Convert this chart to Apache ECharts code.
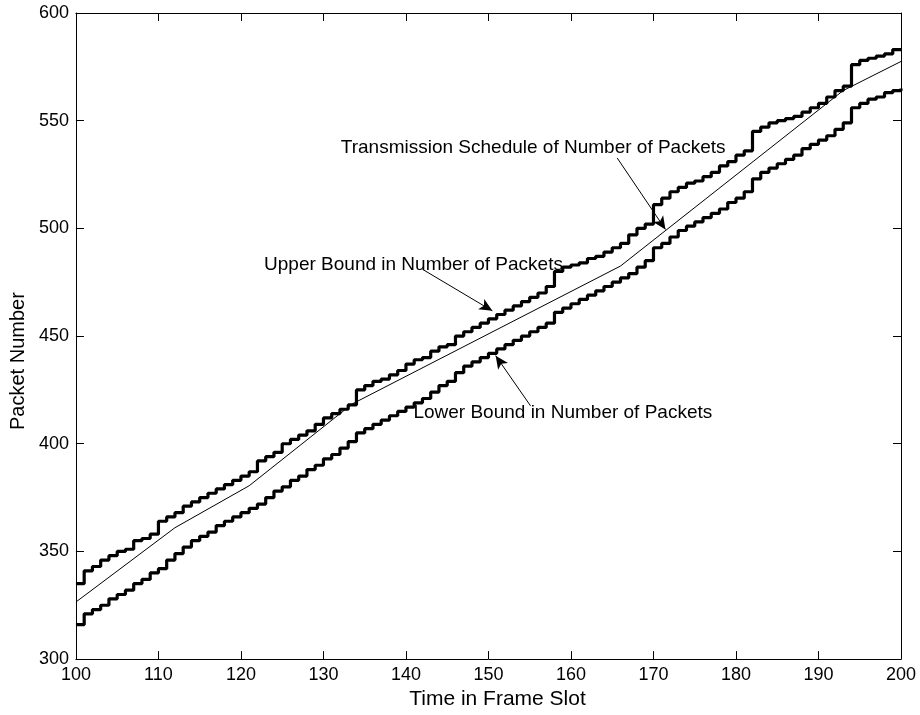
<!DOCTYPE html>
<html>
<head>
<meta charset="utf-8">
<title>Packet Schedule</title>
<script src="https://cdn.jsdelivr.net/npm/echarts@6/dist/echarts.min.js"></script>
<style>
  html, body { margin: 0; padding: 0; background: #fff; }
  #chart { width: 920px; height: 715px; }
</style>
</head>
<body>
<div id="chart"></div>
<script>
// Frame slots 100..200, one bound value per slot (held until the next slot)
const firstSlot = 100;

const upperBound = [
  335, 341, 343, 346, 348, 350, 351, 355, 356, 358,
  364, 366, 368, 371, 373, 375, 377, 379, 381, 383,
  385, 387, 392, 394, 396, 400, 402, 404, 406, 409,
  412, 414, 416, 418, 425, 427, 429, 430, 432, 434,
  437, 439, 440, 443, 445, 446, 450, 452, 454, 456,
  458, 460, 462, 464, 466, 468, 470, 473, 480, 482,
  483, 484, 486, 487, 489, 491, 493, 497, 500, 502,
  511, 514, 517, 519, 521, 522, 524, 526, 529, 531,
  534, 536, 545, 547, 549, 550, 551, 552, 554, 556,
  558, 561, 564, 566, 576, 578, 579, 580, 581, 583,
  583
];

const lowerBound = [
  316, 321, 323, 325, 328, 330, 332, 335, 337, 340,
  342, 346, 349, 352, 355, 357, 359, 362, 364, 366,
  368, 370, 372, 375, 378, 380, 383, 385, 388, 390,
  393, 395, 398, 401, 405, 407, 409, 411, 413, 415,
  417, 419, 421, 424, 427, 429, 433, 436, 438, 440,
  442, 444, 446, 448, 450, 452, 454, 456, 461, 463,
  465, 467, 469, 471, 473, 475, 477, 479, 482, 485,
  491, 493, 496, 499, 501, 503, 505, 507, 509, 512,
  514, 517, 523, 526, 528, 530, 532, 534, 537, 539,
  541, 543, 546, 549, 556, 558, 560, 561, 563, 564,
  565
];

// Transmission schedule: piecewise-linear breakpoints [slot, packets]
const scheduleSlots = [100, 112, 121, 133.5, 166, 193, 200];
const scheduleValues = [326.5, 361, 380.5, 418.5, 482.5, 564, 577.5];

const xTicks = { min: 100, max: 200, interval: 10 };
const yTicks = { min: 300, max: 600, interval: 50 };

// Annotations: text anchor [slot, packets], arrow from -> to
const notes = [
  { text: 'Transmission Schedule of Number of Packets', at: [132.1, 537.5],
    from: [165.6, 532.7], to: [171.45, 499.5] },
  { text: 'Upper Bound in Number of Packets', at: [122.8, 483.3],
    from: [142.0, 481.0], to: [150.47, 461.7] },
  { text: 'Lower Bound in Number of Packets', at: [140.9, 414.4],
    from: [155.1, 417.6], to: [150.87, 440.9] }
];

const pairs = vals => vals.map((v, i) => [firstSlot + i, v]);
const FONT = 'Liberation Sans, Arial, sans-serif';

const chart = echarts.init(document.getElementById('chart'), null, { renderer: 'canvas' });

const axisCommon = {
  type: 'value',
  axisLine: { show: true, onZero: false, lineStyle: { color: '#000', width: 1 } },
  axisTick: { show: true, inside: true, length: 8, lineStyle: { color: '#000', width: 1 } },
  splitLine: { show: false },
  axisLabel: { color: '#000', fontFamily: FONT, fontSize: 18, margin: 7 }
};

chart.setOption({
  animation: false,
  backgroundColor: '#fff',
  grid: { left: 75, right: 19, top: 13, bottom: 54, containLabel: false },
  xAxis: [
    Object.assign({}, axisCommon, xTicks, {
      position: 'bottom',
      name: 'Time in Frame Slot',
      nameLocation: 'middle',
      nameGap: 16,
      nameTextStyle: { color: '#000', fontFamily: FONT, fontSize: 21, padding: [0, 0, 0, 18] }
    }),
    Object.assign({}, axisCommon, xTicks, {
      position: 'top',
      axisLabel: { show: false }
    })
  ],
  yAxis: [
    Object.assign({}, axisCommon, yTicks, {
      position: 'left',
      name: 'Packet Number',
      nameLocation: 'middle',
      nameGap: 46,
      nameTextStyle: { color: '#000', fontFamily: FONT, fontSize: 20, padding: [0, 50, 0, 0] }
    }),
    Object.assign({}, axisCommon, yTicks, {
      position: 'right',
      axisLabel: { show: false }
    })
  ],
  series: [
    {
      name: 'Upper Bound',
      type: 'line',
      step: 'end',
      data: pairs(upperBound),
      showSymbol: false,
      lineStyle: { color: '#000', width: 3.2 },
      z: 3
    },
    {
      name: 'Lower Bound',
      type: 'line',
      step: 'end',
      data: pairs(lowerBound),
      showSymbol: false,
      lineStyle: { color: '#000', width: 3.2 },
      z: 3
    },
    {
      name: 'Transmission Schedule',
      type: 'line',
      data: scheduleSlots.map((s, i) => [s, scheduleValues[i]]),
      showSymbol: false,
      lineStyle: { color: '#000', width: 1 },
      z: 4,
      markLine: {
        silent: true,
        symbol: ['none', 'arrow'],
        symbolSize: [9, 13],
        label: { show: false },
        lineStyle: { color: '#000', width: 1, type: 'solid' },
        data: notes.map(n => [{ coord: n.from }, { coord: n.to }])
      },
      markPoint: {
        silent: true,
        symbol: 'circle',
        symbolSize: 0,
        data: notes.map(n => ({
          coord: n.at,
          label: {
            show: true,
            position: 'right',
            distance: 0,
            formatter: n.text,
            color: '#000',
            fontFamily: FONT,
            fontSize: 19
          }
        }))
      }
    }
  ]
});
</script>
</body>
</html>
